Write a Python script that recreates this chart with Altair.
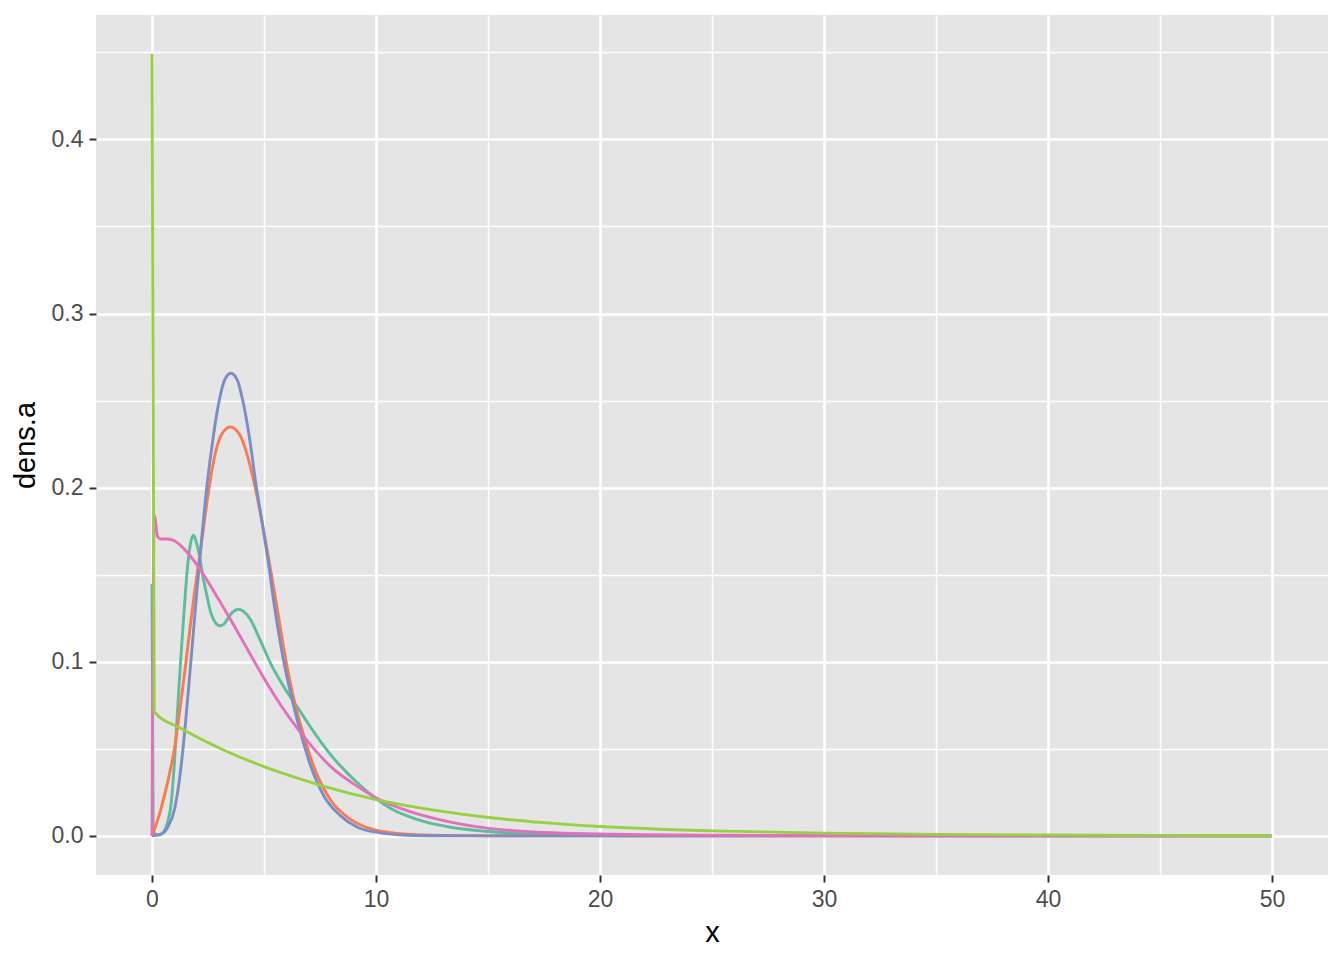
import altair as alt
import pandas as pd

# ---- data ----
series_names = ["s1", "s2", "s3", "s4", "s5"]
series_colors = ["#5CBD9B", "#FB7A50", "#7A8DC7", "#E270BB", "#98D044"]

teal_x = [0, 0.05, 0.3, 0.5, 0.7, 0.85, 1.0, 1.12, 1.25, 1.41, 1.59, 1.72, 1.86,
          1.97, 2.1, 2.26, 2.45, 2.63, 2.83, 3.03, 3.2, 3.37, 3.6, 3.86, 4.1, 4.41,
          4.7, 5.0, 5.3, 5.75, 6.19, 6.49, 7.0, 7.68, 7.98, 8.5, 9.17, 10.06, 10.7,
          11.39, 12.2, 13.32, 15.0, 17.3, 20, 25, 30, 40, 50]
teal_y = [0.1446, 0.002, 0.0005, 0.002, 0.008, 0.018, 0.042, 0.068, 0.095, 0.125,
          0.155, 0.168, 0.1727, 0.169, 0.162, 0.150, 0.138, 0.128, 0.1225, 0.1207,
          0.1215, 0.1245, 0.1285, 0.1302, 0.1288, 0.1240, 0.1162, 0.1075, 0.0990,
          0.0885, 0.0795, 0.0740, 0.0640, 0.0515, 0.0465, 0.0390, 0.0305, 0.0208,
          0.0155, 0.0115, 0.0080, 0.0050, 0.0025, 0.0008, 0.0002, 0.0, 0.0, 0.0, 0.0]

orange_x = [0, 0.2, 0.4, 0.7, 1.0, 1.29, 1.5, 1.71, 1.9, 2.11, 2.3, 2.48, 2.78,
            3.07, 3.3, 3.49, 3.7, 3.97, 4.26, 4.56, 4.86, 5.16, 5.5, 5.8, 6.1,
            6.38, 6.79, 7.23, 7.98, 8.87, 9.91, 11.39, 13.0, 15.0, 20, 30, 40, 50]
orange_y = [0.0, 0.007, 0.0155, 0.031, 0.050, 0.077, 0.098, 0.1207, 0.140, 0.159,
            0.177, 0.194, 0.2170, 0.2297, 0.2337, 0.2349, 0.2337, 0.2292, 0.2183,
            0.2029, 0.1838, 0.1627, 0.1375, 0.1140, 0.0925, 0.0760, 0.0570, 0.0395,
            0.0205, 0.0095, 0.0036, 0.001, 0.0003, 0.0001, 0.0, 0.0, 0.0, 0.0]

blue_x = [0, 0.4, 0.7, 1.0, 1.2, 1.4, 1.6, 1.8, 2.0, 2.2, 2.4, 2.7, 3.0, 3.25,
          3.52, 3.8, 4.04, 4.34, 4.63, 4.93, 5.16, 5.5, 5.9, 6.3, 6.64, 7.09, 7.68,
          8.42, 9.17, 10.06, 11.4, 13.0, 15.0, 20, 30, 40, 50]
blue_y = [0.0, 0.001, 0.005, 0.015, 0.030, 0.052, 0.080, 0.110, 0.140, 0.168,
          0.195, 0.226, 0.250, 0.262, 0.2657, 0.262, 0.2508, 0.2297, 0.2029, 0.1790,
          0.1600, 0.1290, 0.0990, 0.0760, 0.0590, 0.0400, 0.0228, 0.0115, 0.0050,
          0.0020, 0.0004, 0.0001, 0.0, 0.0, 0.0, 0.0, 0.0]

pink_x = [0, 0.1, 0.25, 0.4, 0.7, 1.0, 1.44, 2.04, 2.78, 3.52, 4.26, 5.0, 5.75,
          6.49, 7.23, 7.98, 9.17, 10.06, 11.39, 12.88, 15.03, 17.5, 20, 25, 30, 40, 50]
pink_y = [0.0, 0.184, 0.172, 0.1705, 0.1705, 0.1695, 0.1647, 0.1551, 0.1400,
          0.1240, 0.1072, 0.0905, 0.0750, 0.0617, 0.0500, 0.0398, 0.0285, 0.0215,
          0.0145, 0.0092, 0.0043, 0.0020, 0.0011, 0.0004, 0.0002, 0.00005, 0.0]

lime_x = [0, 0.1, 1.29, 2.2, 3.22, 5.0, 6.19, 7.68, 10.06, 12.88, 15.03, 17.5,
          20, 25, 30, 35, 40, 45, 50]
lime_y = [0.449, 0.0713, 0.0618, 0.0555, 0.0492, 0.0398, 0.0345, 0.0285, 0.0207,
          0.0142, 0.0106, 0.0076, 0.0054, 0.0029, 0.0016, 0.0009, 0.0005, 0.0003,
          0.0002]

x_grid = [0, 5, 10, 15, 20, 25, 30, 35, 40, 45, 50]
y_grid = [0.0, 0.05, 0.1, 0.15, 0.2, 0.25, 0.3, 0.35, 0.4, 0.45]

rows = []
for name, xs, ys in zip(series_names,
                        [teal_x, orange_x, blue_x, pink_x, lime_x],
                        [teal_y, orange_y, blue_y, pink_y, lime_y]):
    for xv, yv in zip(xs, ys):
        rows.append({"series": name, "x": xv, "dens_a": yv})
df = pd.DataFrame(rows)

x_major = "datum.value % 10 === 0"
y_major = "abs(datum.value * 10 - round(datum.value * 10)) < 1e-6"

x_axis = alt.Axis(
    values=x_grid,
    labelExpr=f"{x_major} ? datum.label : ''",
    tickOpacity={"condition": {"test": x_major, "value": 1}, "value": 0},
    gridWidth={"condition": {"test": x_major, "value": 2.6}, "value": 1.3},
    title="x",
)
y_axis = alt.Axis(
    values=y_grid,
    labelExpr=f"{y_major} ? format(datum.value, '.1f') : ''",
    tickOpacity={"condition": {"test": y_major, "value": 1}, "value": 0},
    gridWidth={"condition": {"test": y_major, "value": 2.6}, "value": 1.3},
    title="dens.a",
    titlePadding=11,
)

chart = (
    alt.Chart(df)
    .mark_line(interpolate="monotone", strokeWidth=2.9)
    .encode(
        x=alt.X("x:Q", scale=alt.Scale(domain=[-2.5, 52.5], nice=False, zero=False),
                axis=x_axis),
        y=alt.Y("dens_a:Q", scale=alt.Scale(domain=[-0.02245, 0.47145], nice=False,
                                            zero=False),
                axis=y_axis),
        color=alt.Color("series:N",
                        scale=alt.Scale(domain=series_names, range=series_colors),
                        legend=None),
        order=alt.Order("x:Q"),
    )
    .properties(
        width=1232,
        height=860,
        autosize=alt.AutoSizeParams(type="none"),
        padding={"left": 88, "top": 7, "right": 8, "bottom": 77},
        background="white",
    )
    .configure_view(fill="#E5E5E5", stroke=None)
    .configure_axis(
        grid=True,
        gridColor="white",
        domain=False,
        tickColor="#333333",
        tickSize=7,
        tickWidth=2,
        labelFont="Liberation Sans",
        labelFontSize=23,
        labelColor="#4D4D4D",
        labelPadding=6,
        titleFont="Liberation Sans",
        titleFontSize=29,
        titleFontWeight="normal",
        titleColor="black",
        titlePadding=7,
    )
)

chart.save("out.html", embed_options={"renderer": "svg", "actions": False})
